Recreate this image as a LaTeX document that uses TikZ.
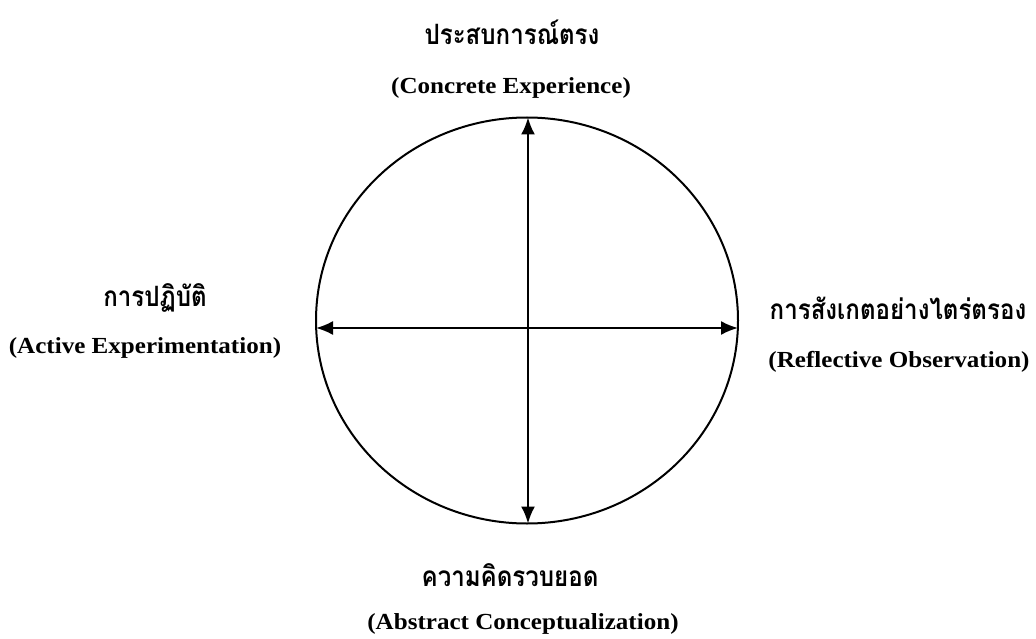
\documentclass[tikz,border=0pt]{standalone}
\usepackage{fontspec}
\setmainfont{Liberation Serif}
\newfontfamily\enfont[FakeStretch=1.09]{Liberation Serif}
\newfontfamily\thaifont[Script=Thai,FakeStretch=0.86]{Loma}
\usetikzlibrary{arrows.meta}
\begin{document}
\begin{tikzpicture}[x=1pt,y=-1pt,
  en/.style={font=\enfont\fontsize{23}{25}\selectfont\bfseries, inner sep=0pt},
  th/.style={font=\thaifont\fontsize{28}{30}\selectfont\bfseries, inner sep=0pt},
  axis/.style={line width=2pt, {Latex[length=17pt,width=14pt]}-{Latex[length=17pt,width=14pt]}}]
\useasboundingbox (0,0) rectangle (1036,639);
\draw[line width=2pt] (527,320.5) ellipse [x radius=211, y radius=203];
\coordinate (top) at (528,117.5);
\coordinate (bot) at (528,523.5);
\coordinate (lft) at (316,328);
\coordinate (rgt) at (738,328);
\draw[axis] (top) -- (bot);
\draw[axis] (lft) -- (rgt);
\node[th] (t1) at (512,32) {ประสบการณ์ตรง};
\node[en] (e1) at (511,88) {(Concrete Experience)};
\node[th] (t2) at (155,298) {การปฏิบัติ};
\node[en] (e2) at (145,348) {(Active Experimentation)};
\node[th] (t3) at (898,308) {การสังเกตอย่างไตร่ตรอง};
\node[en] (e3) at (899,362) {(Reflective Observation)};
\node[th] (t4) at (510,575) {ความคิดรวบยอด};
\node[en] (e4) at (523,624) {(Abstract Conceptualization)};
\end{tikzpicture}
\end{document}
